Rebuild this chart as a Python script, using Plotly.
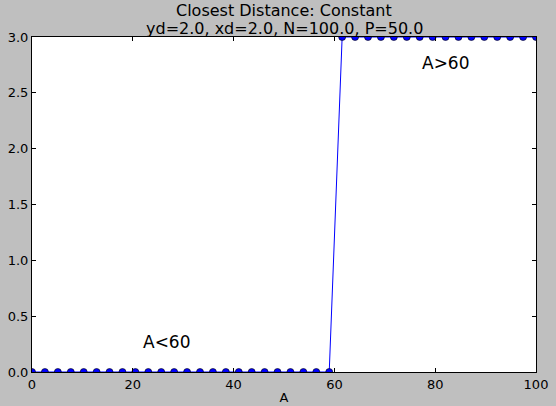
import numpy as np
import plotly.graph_objects as go

# Data
a_values = [0.0, 2.564, 5.128, 7.692, 10.256, 12.821, 15.385, 17.949, 20.513, 23.077,
            25.641, 28.205, 30.769, 33.333, 35.897, 38.462, 41.026, 43.590, 46.154, 48.718,
            51.282, 53.846, 56.410, 58.974, 61.538, 64.103, 66.667, 69.231, 71.795, 74.359,
            76.923, 79.487, 82.051, 84.615, 87.179, 89.744, 92.308, 94.872, 97.436, 100.0]
distance = [0, 0, 0, 0, 0, 0, 0, 0, 0, 0,
            0, 0, 0, 0, 0, 0, 0, 0, 0, 0,
            0, 0, 0, 0, 3, 3, 3, 3, 3, 3,
            3, 3, 3, 3, 3, 3, 3, 3, 3, 3]
x_ticks = [0, 20, 40, 60, 80, 100]
y_ticks = [0.0, 0.5, 1.0, 1.5, 2.0, 2.5, 3.0]
y_tick_labels = ["0.0", "0.5", "1.0", "1.5", "2.0", "2.5", "3.0"]
annotations_text = ["A<60", "A>60"]
annotations_x = [21.6, 77.0]
annotations_y = [0.265, 2.765]
title_lines = ["Closest Distance: Constant", "yd=2.0, xd=2.0, N=100.0, P=50.0"]

fig = go.Figure()
fig.add_trace(go.Scatter(
    x=a_values, y=distance, mode="lines+markers",
    line=dict(color="#0000ff", width=1),
    marker=dict(color="#0000ff", size=7, line=dict(color="#000000", width=0.6)),
    cliponaxis=True, showlegend=False,
))

for t, x, y in zip(annotations_text, annotations_x, annotations_y):
    fig.add_annotation(x=x, y=y, text=t, showarrow=False, xanchor="left", yanchor="middle",
                       font=dict(size=17, color="black", family="DejaVu Sans"))

for t, shift in zip(title_lines, [27, 9]):
    fig.add_annotation(x=0.5, y=1, xref="paper", yref="paper", text=t, showarrow=False,
                       xanchor="center", yanchor="middle", yshift=shift,
                       font=dict(size=16, color="black", family="DejaVu Sans"))

axis_common = dict(showgrid=False, zeroline=False, showline=True, linecolor="black",
                   linewidth=1, mirror="ticks", ticks="inside", ticklen=4, automargin=False,
                   tickcolor="black", tickfont=dict(size=13, color="black", family="DejaVu Sans"))

fig.update_xaxes(range=[0, 100], tickvals=x_ticks, title=dict(text="A", standoff=2,
                 font=dict(size=13, color="black", family="DejaVu Sans")), **axis_common)
fig.update_yaxes(range=[0, 3], tickvals=y_ticks, ticktext=y_tick_labels, **axis_common)

fig.update_layout(
    width=556, height=406,
    margin=dict(l=32, r=20, t=37, b=34),
    paper_bgcolor="#bfbfbf", plot_bgcolor="white",
    font=dict(family="DejaVu Sans", color="black"),
)

fig.write_html(
    "out.html",
    config={"displayModeBar": False},
    post_script="document.body.style.margin='0';document.body.style.padding='0';"
                "document.body.style.background='#bfbfbf';document.body.style.overflow='hidden';",
)
